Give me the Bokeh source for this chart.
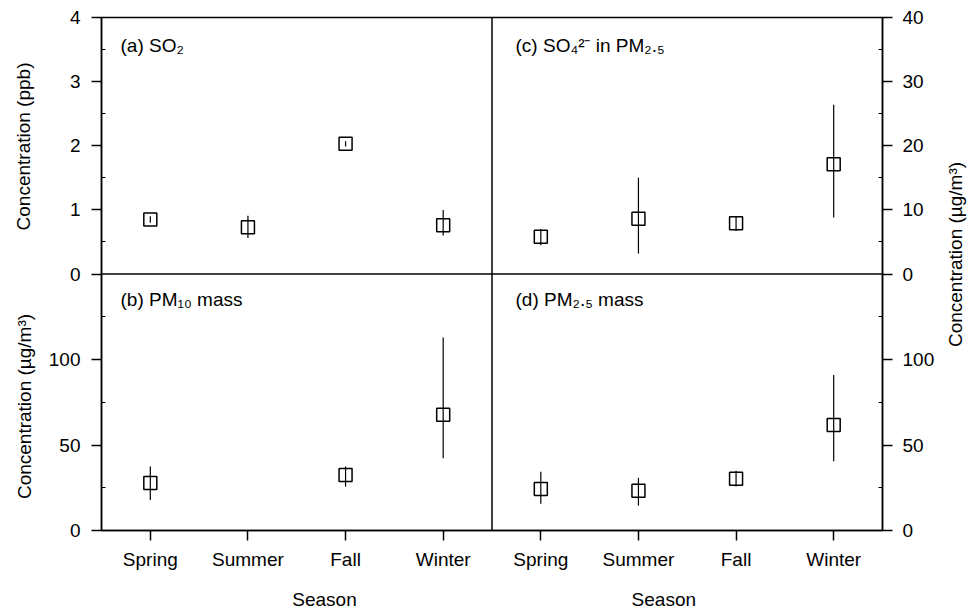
import numpy as np
from math import pi
from bokeh.plotting import figure
from bokeh.models import Range1d, LinearAxis, FixedTicker, Span, Label
from bokeh.layouts import row, column
from bokeh.embed import file_html
from bokeh.resources import INLINE

# ---------------- data ----------------
seasons = ["Spring", "Summer", "Fall", "Winter"]

so2_mean = [0.85, 0.73, 2.03, 0.76]
so2_lo = [0.80, 0.56, 1.99, 0.60]
so2_hi = [0.90, 0.91, 2.07, 1.00]

so4_mean = [5.8, 8.6, 7.9, 17.1]
so4_lo = [4.5, 3.2, 6.7, 8.8]
so4_hi = [7.0, 15.0, 8.9, 26.4]

pm10_mean = [27.8, np.nan, 32.5, 67.7]
pm10_lo = [17.9, np.nan, 25.7, 42.2]
pm10_hi = [37.4, np.nan, 37.4, 112.8]

pm25_mean = [24.3, 23.3, 30.2, 61.7]
pm25_lo = [15.6, 14.6, 25.7, 40.5]
pm25_hi = [34.4, 30.8, 35.0, 91.0]

so2_ticks = [0, 1, 2, 3, 4]
so4_ticks = [0, 10, 20, 30, 40]
mass_ticks = [0, 50, 100]
mass_max = 150

FONT = "Liberation Sans"
FS = "19px"

W, H = 970, 609
LW, RW, BH = 40, 30, 30   # helper strips for outer titles


def blank(width, height, xr, yr):
    f = figure(width=width, height=height, x_range=Range1d(*xr), y_range=Range1d(*yr),
               min_border=0, min_border_left=0, min_border_right=0, min_border_top=0,
               min_border_bottom=0, output_backend="svg", toolbar_location=None,
               x_axis_location=None, y_axis_location=None)
    f.grid.visible = False
    f.outline_line_color = None
    f.background_fill_color = "white"
    f.border_fill_color = "white"
    return f


def lab(f, x, y, text, angle=0, align="left", **kw):
    f.add_layout(Label(x=x, y=y, text=text, angle=angle, text_align=align, text_baseline="middle",
                       text_font=FONT, text_font_size=FS, text_color="black", **kw))


# ---------------- main figure ----------------
MW, MH = W - LW - RW, H - BH
p = figure(width=MW, height=MH, x_range=Range1d(0.5, 8.5), y_range=Range1d(0, 2),
           min_border_left=61, min_border_right=58, min_border_top=17, min_border_bottom=49,
           output_backend="svg", toolbar_location=None,
           x_axis_location=None, y_axis_location=None)
p.grid.visible = False
p.outline_line_color = "black"
p.outline_line_width = 1.5
p.background_fill_color = "white"
p.border_fill_color = "white"

so2_top = so2_ticks[-1]
so4_top = so4_ticks[-1]
p.extra_y_ranges = {
    "a": Range1d(-so2_top, so2_top),
    "b": Range1d(0, 2 * mass_max),
    "c": Range1d(-so4_top, so4_top),
    "d": Range1d(0, 2 * mass_max),
}
p.extra_x_ranges = {"r": Range1d(-3.5, 4.5)}

xs = np.arange(1, len(seasons) + 1)


def panel(mean, lo, hi, yname, xname="default"):
    kw = dict(y_range_name=yname)
    if xname != "default":
        kw["x_range_name"] = xname
    p.segment(x0=xs, y0=np.array(lo, dtype=float), x1=xs, y1=np.array(hi, dtype=float),
              line_color="black", line_width=1.2, **kw)
    p.scatter(x=xs, y=np.array(mean, dtype=float), marker="square", size=13,
              fill_alpha=0, line_color="black", line_width=1.5, **kw)


panel(so2_mean, so2_lo, so2_hi, "a")
panel(pm10_mean, pm10_lo, pm10_hi, "b")
panel(so4_mean, so4_lo, so4_hi, "c", "r")
panel(pm25_mean, pm25_lo, pm25_hi, "d", "r")

p.add_layout(Span(location=4.5, dimension="height", line_color="black", line_width=1.5))
p.add_layout(Span(location=1, dimension="width", line_color="black", line_width=1.5))


def style_axis(ax, standoff):
    ax.axis_line_color = "black"
    ax.axis_line_width = 1.5
    ax.major_tick_line_color = "black"
    ax.major_tick_line_width = 1.5
    ax.minor_tick_line_color = "black"
    ax.minor_tick_line_width = 1
    ax.major_tick_in = 0
    ax.major_tick_out = 10
    ax.minor_tick_in = 4
    ax.minor_tick_out = 0
    ax.major_label_text_font = FONT
    ax.major_label_text_font_size = FS
    ax.major_label_text_color = "black"
    ax.major_label_standoff = standoff


xticks_main = list(range(1, 2 * len(seasons) + 1))
xover = {t: seasons[(t - 1) % len(seasons)] for t in xticks_main}
xax = LinearAxis(ticker=FixedTicker(ticks=xticks_main, minor_ticks=[]), major_label_overrides=xover)
style_axis(xax, 8)
p.add_layout(xax, "below")

top_scale_a = mass_max / so2_top
top_scale_c = mass_max / so4_top
mass_minor = [t + 25.0 for t in mass_ticks]

left_major = [float(t) for t in mass_ticks] + [mass_max + t * top_scale_a for t in so2_ticks]
left_minor = mass_minor + [mass_max + (t + 0.5) * top_scale_a for t in so2_ticks[:-1]]
left_over = {float(t): str(t) for t in mass_ticks}
left_over.update({mass_max + t * top_scale_a: str(t) for t in so2_ticks})
lax = LinearAxis(y_range_name="b", ticker=FixedTicker(ticks=left_major, minor_ticks=left_minor),
                 major_label_overrides=left_over)
style_axis(lax, 11)
p.add_layout(lax, "left")

right_major = [float(t) for t in mass_ticks] + [mass_max + t * top_scale_c for t in so4_ticks]
right_minor = mass_minor + [mass_max + (t + 5) * top_scale_c for t in so4_ticks[:-1]]
right_over = {float(t): str(t) for t in mass_ticks}
right_over.update({mass_max + t * top_scale_c: str(t) for t in so4_ticks})
rax = LinearAxis(y_range_name="d", ticker=FixedTicker(ticks=right_major, minor_ticks=right_minor),
                 major_label_overrides=right_over)
style_axis(rax, 10)
p.add_layout(rax, "right")

# panel titles (inside the frame)
lab(p, 0.695, 1.891, "(a) SO\u2082")
lab(p, 0.695, 0.9006, "(b) PM\u2081\u2080 mass")
lab(p, 4.741, 1.891, "(c) SO\u2084\u00b2\u207b in PM\u2082.\u2085")
lab(p, 4.741, 0.9006, "(d) PM\u2082.\u2085 mass")

# ---------------- outer title strips (page pixel coordinates) ----------------
left_strip = blank(LW, H, (0, LW), (H, 0))
lab(left_strip, 23, 146, "Concentration (ppb)", angle=pi / 2, align="center")
lab(left_strip, 24, 406, "Concentration (\u00b5g/m\u00b3)", angle=pi / 2, align="center")

right_strip = blank(RW, H, (W - RW, W), (H, 0))
lab(right_strip, 955, 254, "Concentration (\u00b5g/m\u00b3)", angle=pi / 2, align="center")

bottom_strip = blank(MW, BH, (LW, LW + MW), (H, H - BH))
lab(bottom_strip, 297, 599, "Season", align="center")
lab(bottom_strip, 688, 599, "Season", align="center")

layout = row(left_strip, column(p, bottom_strip, spacing=0), right_strip, spacing=0)

html = file_html(layout, INLINE)
open("out.html", "w").write(html)
